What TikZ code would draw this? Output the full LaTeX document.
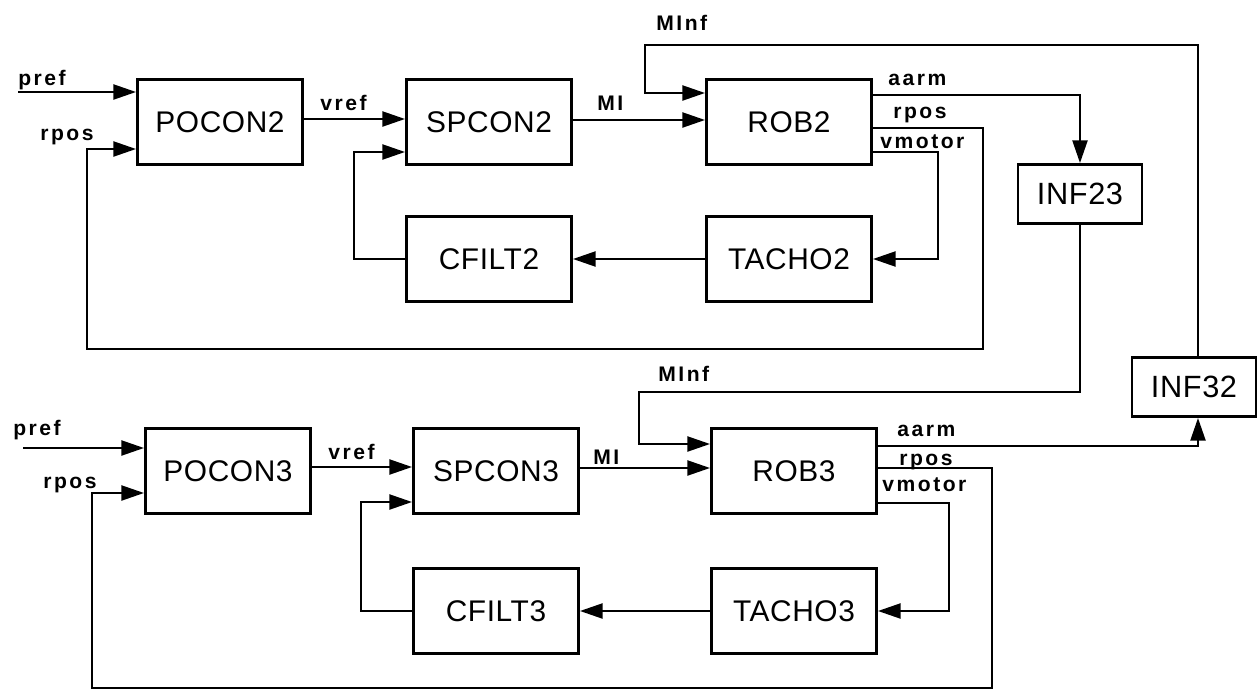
\documentclass[tikz,border=0pt]{standalone}
\usepackage{fontspec}
\setmainfont{Liberation Sans}
\newfontfamily\blockfont[LetterSpace=2]{Liberation Sans}
\newfontfamily\sigfont[LetterSpace=12]{Liberation Sans}
\usepackage{tikz}
\usetikzlibrary{positioning,arrows.meta,calc}
\tikzset{
  blockbox/.style={draw, line width=1.6pt, minimum width=3.3cm, minimum height=1.7cm,
                   font=\blockfont\fontsize{17}{20}\selectfont, align=center, inner sep=0pt},
  infbox/.style={draw, line width=1.6pt, minimum width=2.48cm, minimum height=1.18cm,
                 font=\blockfont\fontsize{17.5}{20}\selectfont, align=center, inner sep=0pt},
  sig/.style={-{Triangle[length=13pt,width=8.5pt]}, line width=1.5pt},
  siglabel/.style={anchor=base west, inner sep=0pt,
                   font=\sigfont\bfseries\fontsize{12}{14}\selectfont}
}

\begin{document}
\begin{tikzpicture}[x=0.02cm, y=-0.02cm]
  \useasboundingbox (0,0) rectangle (1259,690);

  % Axis 2 blocks
  \node[blockbox] (pocon2) at (220,122) {POCON2};
  \node[blockbox] (spcon2) at (489,122) {SPCON2};
  \node[blockbox] (rob2)   at (789,122) {ROB2};
  \node[blockbox] (cfilt2) at (489,259) {CFILT2};
  \node[blockbox] (tacho2) at (789,259) {TACHO2};

  % Axis 3 blocks
  \node[blockbox] (pocon3) at (228,471) {POCON3};
  \node[blockbox] (spcon3) at (496,471) {SPCON3};
  \node[blockbox] (rob3)   at (794,471) {ROB3};
  \node[blockbox] (cfilt3) at (496,611) {CFILT3};
  \node[blockbox] (tacho3) at (794,611) {TACHO3};

  % Interaction blocks
  \node[infbox] (inf23) at (1080,194) {INF23};
  \node[infbox] (inf32) at (1194,387) {INF32};

  % Axis 2 signals
  \coordinate (pref2) at (18,92);
  \draw[sig] (pref2) -- (pocon2.west |- pref2);
  \draw[sig] (pocon2.east |- 0,119) -- (spcon2.west |- 0,119);
  \draw[sig] (cfilt2.west) -- ++(-51,0) |- (spcon2.west |- 0,152);
  \draw[sig] (spcon2.east |- 0,120) -- (rob2.west |- 0,120);
  \draw[sig] (tacho2.west) -- (cfilt2.east);
  \draw[sig] (rob2.east |- 0,152) -- ++(65,0) |- (tacho2.east);
  \draw[sig] (rob2.east |- 0,95) -| (inf23.north);
  \coordinate (fb2) at (983,349);
  \coordinate (fb2l) at (87,349);
  \draw[sig] (rob2.east |- 0,128) -| (fb2) -- (fb2l) |- (pocon2.west |- 0,149);
  \coordinate (minf2) at (645,45);
  \draw[sig] (inf32.north -| 1198,0) |- (minf2) |- (rob2.west |- 0,93);

  % Axis 3 signals
  \coordinate (pref3) at (23,448);
  \draw[sig] (pref3) -- (pocon3.west |- pref3);
  \draw[sig] (pocon3.east |- 0,467) -- (spcon3.west |- 0,467);
  \draw[sig] (cfilt3.west) -- ++(-51,0) |- (spcon3.west |- 0,502);
  \draw[sig] (spcon3.east |- 0,468) -- (rob3.west |- 0,468);
  \draw[sig] (tacho3.west) -- (cfilt3.east);
  \draw[sig] (rob3.east |- 0,503) -- ++(71,0) |- (tacho3.east);
  \draw[sig] (rob3.east |- 0,446) -| (inf32.south -| 1198,0);
  \coordinate (fb3) at (992,688);
  \coordinate (fb3l) at (92,688);
  \draw[sig] (rob3.east |- 0,468) -| (fb3) -- (fb3l) |- (pocon3.west |- 0,493);
  \coordinate (minf3) at (639,392);
  \draw[sig] (inf23.south) |- (minf3) |- (rob3.west |- 0,444);

  % Signal names
  \node[siglabel] (lpref2)  at (18,85)   {pref};
  \node[siglabel] (lrpos2)  at (40,140)  {rpos};
  \node[siglabel] (lvref2)  at (320,110) {vref};
  \node[siglabel] (lmi2)    at (597,110) {MI};
  \node[siglabel] (lminf2)  at (656,30)  {MInf};
  \node[siglabel] (laarm2)  at (888,85)  {aarm};
  \node[siglabel] (lrposo2) at (893,118) {rpos};
  \node[siglabel] (lvmot2)  at (880,148) {vmotor};

  \node[siglabel] (lpref3)  at (13,435)  {pref};
  \node[siglabel] (lrpos3)  at (43,488)  {rpos};
  \node[siglabel] (lvref3)  at (328,459) {vref};
  \node[siglabel] (lmi3)    at (593,464) {MI};
  \node[siglabel] (lminf3)  at (658,381) {MInf};
  \node[siglabel] (laarm3)  at (897,436) {aarm};
  \node[siglabel] (lrposo3) at (899,465) {rpos};
  \node[siglabel] (lvmot3)  at (882,491) {vmotor};
\end{tikzpicture}
\end{document}
